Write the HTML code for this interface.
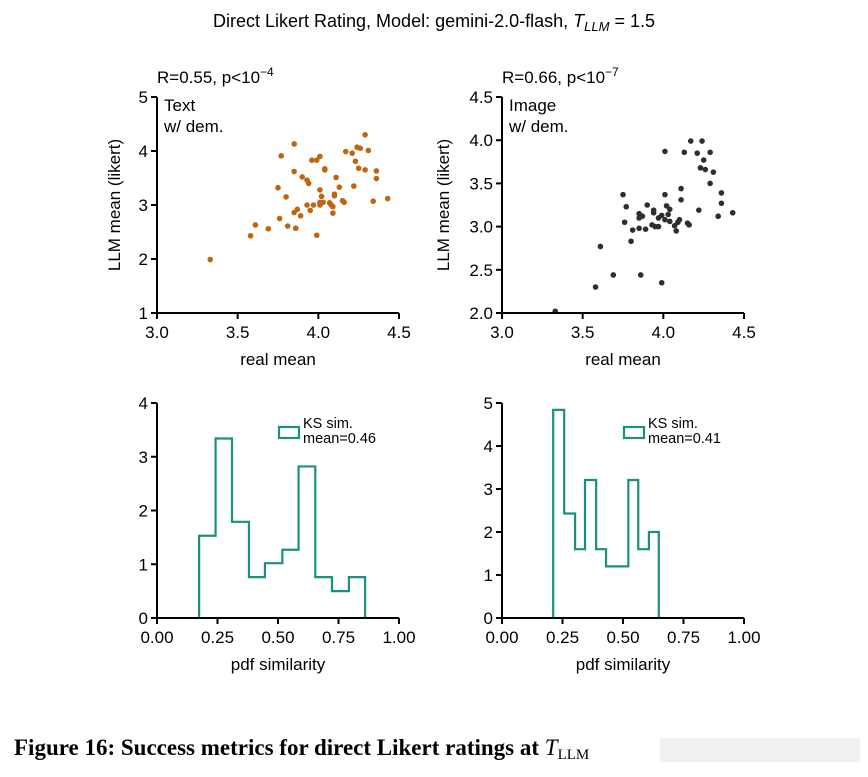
<!DOCTYPE html>
<html><head><meta charset="utf-8"><style>
body{margin:0;background:#fff;width:868px;height:772px;overflow:hidden}
svg{font-family:"Liberation Sans",sans-serif}
</style></head><body>
<svg id="fig" width="868" height="772" xmlns="http://www.w3.org/2000/svg">
<text x="434" y="27" text-anchor="middle" font-size="18">Direct Likert Rating, Model: gemini-2.0-flash,  <tspan font-style="italic">T</tspan><tspan font-style="italic" font-size="13" dy="4">LLM</tspan><tspan dy="-4"> = 1.5</tspan></text>
<text x="157" y="83" font-size="17">R=0.55, p&lt;10<tspan font-size="12" dy="-7">−4</tspan></text>
<text x="502" y="83" font-size="17">R=0.66, p&lt;10<tspan font-size="12" dy="-7">−7</tspan></text>
<text x="14" y="755" font-family="Liberation Serif,serif" font-weight="bold" font-size="23">Figure 16: Success metrics for direct Likert ratings at <tspan font-style="italic" font-weight="normal">T</tspan><tspan font-size="15" font-weight="normal" dy="4">LLM</tspan></text>
<rect x="660" y="738" width="200" height="24" fill="#eee" opacity="0.8"/>
<g id="plots"></g>
</svg>
<script>
const textX=[3.33,3.58,3.61,3.69,3.76,3.81,3.86,3.85,3.87,3.89,3.93,3.95,3.97,3.99,4.01,4.01,4.03,4.02,4.01,4.07,4.08,4.09,4.09,4.10,4.10,4.13,4.15,4.16,4.11,4.22,4.04,4.04,3.90,3.93,3.94,3.85,3.75,3.80,3.77,3.85,3.96,3.99,4.01,4.17,4.21,4.23,4.24,4.26,4.29,4.31,4.25,4.29,4.36,4.36,4.34,4.43];
const textY=[1.99,2.43,2.63,2.56,2.75,2.61,2.57,2.86,2.92,2.80,3.00,2.90,3.00,2.44,3.00,3.05,3.05,3.16,3.28,3.04,3.00,2.97,2.85,3.17,3.20,3.33,3.08,3.05,3.51,3.35,3.67,3.65,3.52,3.46,3.40,3.62,3.32,3.15,3.91,4.13,3.83,3.83,3.90,3.99,3.96,3.81,4.07,4.05,4.30,4.01,3.68,3.65,3.63,3.49,3.07,3.12];
const imgX=[3.33,3.58,3.61,3.69,3.86,3.99,3.80,3.76,3.75,3.77,3.81,3.85,3.89,3.85,3.87,3.85,3.90,3.93,3.94,3.94,3.95,3.97,3.97,3.99,4.01,4.01,4.02,4.03,4.04,4.04,4.07,4.08,4.09,4.10,4.11,4.11,4.15,4.16,4.22,4.01,4.13,4.17,4.24,4.21,4.29,4.25,4.23,4.26,4.31,4.29,4.36,4.36,4.34,4.43];
const imgY=[2.02,2.30,2.77,2.44,2.44,2.35,2.83,3.05,3.37,3.23,2.96,2.98,2.97,3.10,3.12,3.15,3.25,3.02,3.16,3.19,3.00,3.00,3.10,3.13,3.37,3.08,3.24,3.14,3.20,3.06,3.01,2.95,3.05,3.08,3.31,3.44,3.04,3.02,3.19,3.87,3.86,3.99,3.99,3.85,3.86,3.77,3.68,3.66,3.63,3.50,3.39,3.27,3.12,3.16];
const textEdges=[0.174,0.242,0.310,0.380,0.446,0.518,0.585,0.654,0.723,0.793,0.860];
const textCounts=[1.53,3.34,1.79,0.76,1.02,1.27,2.82,0.76,0.50,0.76];
const imgEdges=[0.2115,0.257,0.302,0.343,0.389,0.430,0.475,0.522,0.563,0.607,0.648];
const imgCounts=[4.84,2.43,1.60,3.21,1.60,1.20,1.20,3.21,1.60,2.00];
const scatXTicks=["3.0","3.5","4.0","4.5"];
const textYTicks=["1","2","3","4","5"];
const imgYTicks=["2.0","2.5","3.0","3.5","4.0","4.5"];
const histXTicks=["0.00","0.25","0.50","0.75","1.00"];
const textHistYTicks=["0","1","2","3","4"];
const imgHistYTicks=["0","1","2","3","4","5"];

const NS="http://www.w3.org/2000/svg";
const root=document.getElementById('plots');
function mk(tag,at,parent){const e=document.createElementNS(NS,tag);for(const k in at)e.setAttribute(k,at[k]);(parent||root).appendChild(e);return e;}
function lin(d0,d1,r0,r1){return v=>r0+(v-d0)/(d1-d0)*(r1-r0);}

function axes(g,x0,x1,y0,y1,xs,ys,xt,yt,xlab,ylab,yoff){
  mk('line',{x1:x0,y1:y1,x2:x0,y2:y0,stroke:'#000','stroke-width':2},g);
  mk('line',{x1:x0,y1:y1,x2:x1,y2:y1,stroke:'#000','stroke-width':2},g);
  xt.forEach(t=>{const x=xs(+t);
    const l=mk('line',{x1:x,y1:y1,x2:x,y2:y1+6,stroke:'#000','stroke-width':2},g);
    
    
    const tx=mk('text',{x:x,y:y1+25,'text-anchor':'middle','font-size':17},g);tx.textContent=t;
    
    });
  yt.forEach(t=>{const y=ys(+t);
    const l=mk('line',{x1:x0-6,y1:y,x2:x0,y2:y,stroke:'#000','stroke-width':2},g);
    
    
    const tx=mk('text',{x:x0-9,y:y+6,'text-anchor':'end','font-size':17},g);tx.textContent=t;
    
    });
  const xl=mk('text',{x:(x0+x1)/2,y:y1+52,'text-anchor':'middle','font-size':17},g);xl.textContent=xlab;
  
  
  if(ylab){const yl=mk('text',{x:0,y:0,'text-anchor':'middle','font-size':17,transform:`translate(${x0-yoff},${(y0+y1)/2}) rotate(-90)`},g);yl.textContent=ylab;
  
  }
}
function scatter(name,x0,ymin,ymax,yt,X,Y,color,lab1,yoff){
  const g=mk('g',{});
  
  
  const x1=x0+242,y0=97,y1=313;
  const xs=lin(3,4.5,x0,x1),ys=lin(ymin,ymax,y1,y0);
  X.forEach((v,i)=>{const c=mk('circle',{cx:xs(v),cy:ys(Y[i]),r:2.8,fill:color},g);
    
    });
  axes(g,x0,x1,y0,y1,xs,ys,scatXTicks,yt,'real mean','LLM mean (likert)',yoff);
  const t=mk('text',{x:x0+7,y:111,'font-size':17},g);t.textContent=lab1;
  
  
  const t2=mk('text',{x:x0+7,y:132,'font-size':17},g);t2.textContent='w/ dem.';
  
  
}
function hist(name,x0,ymax,yt,edges,counts,mean){
  const g=mk('g',{});
  
  
  const x1=x0+242,y0=403,y1=618;
  const xs=lin(0,1,x0,x1),ys=lin(0,ymax,y1,y0);
  let d=`M${xs(edges[0])},${y1}`;
  counts.forEach((c,i)=>{d+=` L${xs(edges[i])},${ys(c)} L${xs(edges[i+1])},${ys(c)}`;});
  d+=` L${xs(edges[edges.length-1])},${y1}`;
  const p=mk('path',{d:d,fill:'none',stroke:'#1b9080','stroke-width':2.2},g);
  
  
  axes(g,x0,x1,y0,y1,xs,ys,histXTicks,yt,'pdf similarity','',0);
  const lr=mk('rect',{x:x0+122,y:427,width:20,height:11,fill:'none',stroke:'#1b9080','stroke-width':2.2},g);
  
  
  const l1=mk('text',{x:x0+146,y:428,'font-size':14.5},g);l1.textContent='KS sim.';
  
  
  const l2=mk('text',{x:x0+146,y:443,'font-size':14.5},g);l2.textContent='mean='+mean;
  
  
}
scatter('text-scatter',157,1,5,textYTicks,textX,textY,'#c0650f','Text',37);
scatter('image-scatter',502,2,4.5,imgYTicks,imgX,imgY,'#2e2e2e','Image',53);
hist('text-histogram',157,4,textHistYTicks,textEdges,textCounts,'0.46');
hist('image-histogram',502,5,imgHistYTicks,imgEdges,imgCounts,'0.41');
</script>
</body></html>
